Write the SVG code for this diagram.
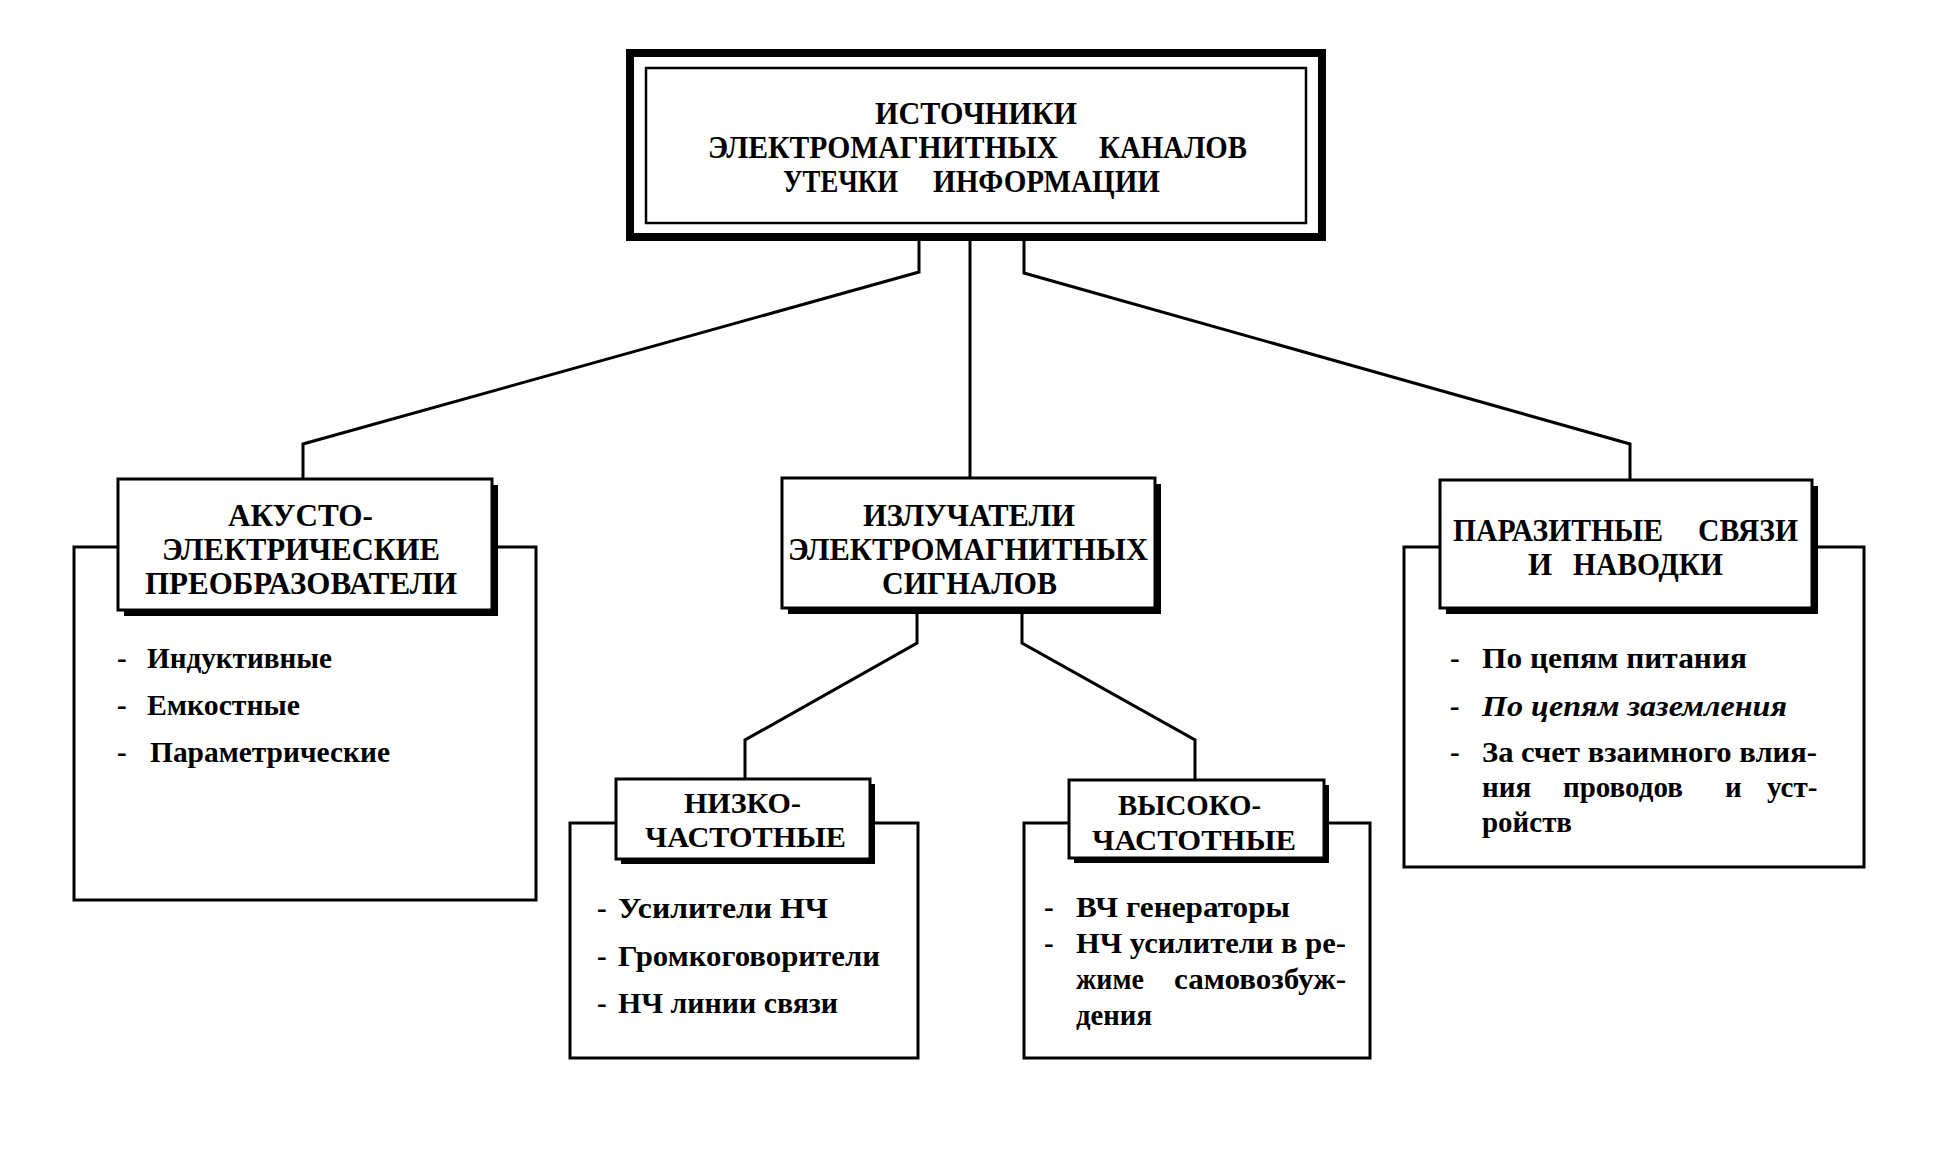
<svg xmlns="http://www.w3.org/2000/svg" width="1938" height="1162" viewBox="0 0 1938 1162">
<style>
.ln{fill:none;stroke:#000;stroke-width:3;stroke-linejoin:miter}
.box{fill:#fff;stroke:#000;stroke-width:3}
.sh{fill:#000}
.t{font-family:"Liberation Serif","DejaVu Serif",serif;font-weight:bold;fill:#000}
.h{font-size:31px}
.s{font-size:30px}
.i{font-size:29px}
.it{font-style:italic}
</style>
<rect width="1938" height="1162" fill="#fff"/>
<g id="connectors">
<path class="ln" d="M919,241 V272 L303,444 V480"/>
<path class="ln" d="M970,241 V478"/>
<path class="ln" d="M1024,241 V273 L1630,444 V480"/>
<path class="ln" d="M917,614 V643 L745,740 V779"/>
<path class="ln" d="M1022,614 V643 L1195,740 V780"/>
</g>
<g id="root">
<rect x="630" y="53" width="692" height="184" fill="#fff" stroke="#000" stroke-width="8"/>
<rect x="646" y="68" width="660" height="155" fill="none" stroke="#000" stroke-width="2.5"/>
<text class="t h" x="875" y="124" textLength="202" lengthAdjust="spacingAndGlyphs">ИСТОЧНИКИ</text>
<text class="t h" y="158"><tspan x="708" textLength="350" lengthAdjust="spacingAndGlyphs">ЭЛЕКТРОМАГНИТНЫХ</tspan> <tspan x="1099" textLength="148" lengthAdjust="spacingAndGlyphs">КАНАЛОВ</tspan></text>
<text class="t h" y="192"><tspan x="783" textLength="115" lengthAdjust="spacingAndGlyphs">УТЕЧКИ</tspan> <tspan x="933" textLength="227" lengthAdjust="spacingAndGlyphs">ИНФОРМАЦИИ</tspan></text>
</g>
<g id="acousto">
<rect class="box" x="74" y="547" width="462" height="353"/>
<rect class="sh" x="124" y="485" width="374" height="131"/>
<rect class="box" x="118" y="479" width="374" height="131"/>
<text class="t h" x="228" y="526" textLength="145" lengthAdjust="spacingAndGlyphs">АКУСТО-</text>
<text class="t h" x="162" y="560" textLength="278" lengthAdjust="spacingAndGlyphs">ЭЛЕКТРИЧЕСКИЕ</text>
<text class="t h" x="145" y="594" textLength="312" lengthAdjust="spacingAndGlyphs">ПРЕОБРАЗОВАТЕЛИ</text>
<text class="t i" y="668"><tspan x="117">-</tspan> <tspan x="147" textLength="185" lengthAdjust="spacingAndGlyphs">Индуктивные</tspan></text>
<text class="t i" y="715"><tspan x="117">-</tspan> <tspan x="147" textLength="153" lengthAdjust="spacingAndGlyphs">Емкостные</tspan></text>
<text class="t i" y="762"><tspan x="117">-</tspan> <tspan x="150" textLength="240" lengthAdjust="spacingAndGlyphs">Параметрические</tspan></text>
</g>
<g id="emitters">
<rect class="sh" x="788" y="484" width="373" height="130"/>
<rect class="box" x="782" y="478" width="373" height="130"/>
<text class="t h" x="863" y="526" textLength="212" lengthAdjust="spacingAndGlyphs">ИЗЛУЧАТЕЛИ</text>
<text class="t h" x="788" y="560" textLength="360" lengthAdjust="spacingAndGlyphs">ЭЛЕКТРОМАГНИТНЫХ</text>
<text class="t h" x="882" y="594" textLength="175" lengthAdjust="spacingAndGlyphs">СИГНАЛОВ</text>
</g>
<g id="parasitic">
<rect class="box" x="1404" y="547" width="460" height="320"/>
<rect class="sh" x="1446" y="486" width="372" height="128"/>
<rect class="box" x="1440" y="480" width="372" height="128"/>
<text class="t h" y="541"><tspan x="1453" textLength="210" lengthAdjust="spacingAndGlyphs">ПАРАЗИТНЫЕ</tspan> <tspan x="1698" textLength="100" lengthAdjust="spacingAndGlyphs">СВЯЗИ</tspan></text>
<text class="t h" y="575"><tspan x="1528">И</tspan> <tspan x="1573" textLength="150" lengthAdjust="spacingAndGlyphs">НАВОДКИ</tspan></text>
<text class="t i" y="668"><tspan x="1450">-</tspan> <tspan x="1482" textLength="265" lengthAdjust="spacingAndGlyphs">По цепям питания</tspan></text>
<text class="t i it" y="716"><tspan x="1450">-</tspan> <tspan x="1482" textLength="305" lengthAdjust="spacingAndGlyphs">По цепям заземления</tspan></text>
<text class="t i" y="762"><tspan x="1450">-</tspan> <tspan x="1482" textLength="335" lengthAdjust="spacingAndGlyphs">За счет взаимного влия-</tspan></text>
<text class="t i" y="797"><tspan x="1482">ния</tspan> <tspan x="1563">проводов</tspan> <tspan x="1725">и</tspan> <tspan x="1767">уст-</tspan></text>
<text class="t i" x="1482" y="832" textLength="90" lengthAdjust="spacingAndGlyphs">ройств</text>
</g>
<g id="lowfreq">
<rect class="box" x="570" y="823" width="348" height="235"/>
<rect class="sh" x="621" y="784" width="254" height="80"/>
<rect class="box" x="616" y="779" width="254" height="80"/>
<text class="t s" x="684" y="813" textLength="117" lengthAdjust="spacingAndGlyphs">НИЗКО-</text>
<text class="t s" x="645" y="847" textLength="201" lengthAdjust="spacingAndGlyphs">ЧАСТОТНЫЕ</text>
<text class="t i" y="918"><tspan x="597">-</tspan><tspan x="618" textLength="210" lengthAdjust="spacingAndGlyphs">Усилители  НЧ</tspan></text>
<text class="t i" y="966"><tspan x="597">-</tspan><tspan x="618" textLength="262" lengthAdjust="spacingAndGlyphs">Громкоговорители</tspan></text>
<text class="t i" y="1013"><tspan x="597">-</tspan><tspan x="618" textLength="220" lengthAdjust="spacingAndGlyphs">НЧ линии связи</tspan></text>
</g>
<g id="highfreq">
<rect class="box" x="1024" y="823" width="346" height="235"/>
<rect class="sh" x="1074" y="785" width="255" height="78"/>
<rect class="box" x="1069" y="780" width="255" height="78"/>
<text class="t s" x="1118" y="815" textLength="143" lengthAdjust="spacingAndGlyphs">ВЫСОКО-</text>
<text class="t s" x="1092" y="850" textLength="204" lengthAdjust="spacingAndGlyphs">ЧАСТОТНЫЕ</text>
<text class="t i" y="917"><tspan x="1044">-</tspan> <tspan x="1076" textLength="214" lengthAdjust="spacingAndGlyphs">ВЧ  генераторы</tspan></text>
<text class="t i" y="953"><tspan x="1044">-</tspan> <tspan x="1076" textLength="270" lengthAdjust="spacingAndGlyphs">НЧ усилители в ре-</tspan></text>
<text class="t i" y="989"><tspan x="1076" textLength="68" lengthAdjust="spacingAndGlyphs">жиме</tspan> <tspan x="1174" textLength="172" lengthAdjust="spacingAndGlyphs">самовозбуж-</tspan></text>
<text class="t i" x="1076" y="1025" textLength="76" lengthAdjust="spacingAndGlyphs">дения</text>
</g>
</svg>
